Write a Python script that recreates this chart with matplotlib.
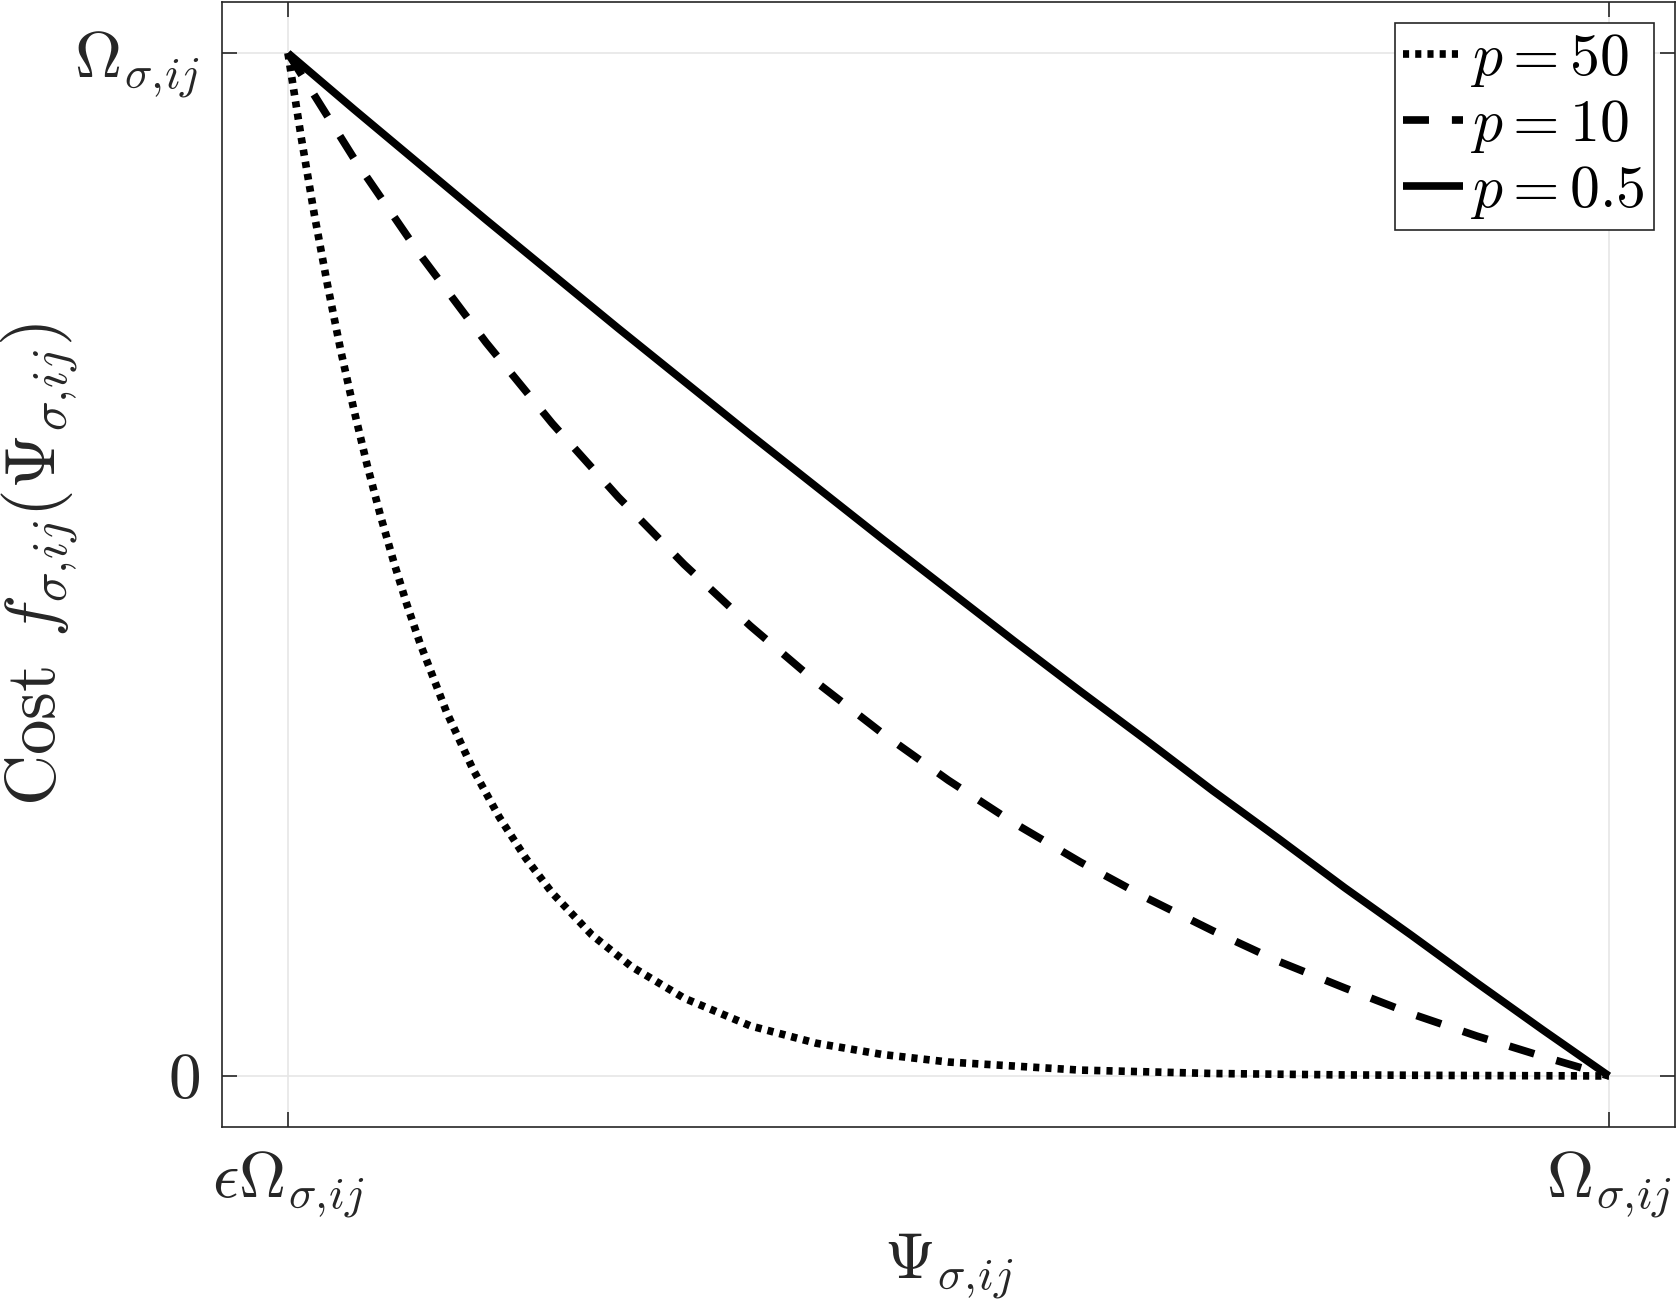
import matplotlib
matplotlib.use('Agg')
import matplotlib.pyplot as plt

plt.rcParams['mathtext.fontset'] = 'cm'
plt.rcParams['font.family'] = 'serif'
plt.rcParams['font.serif'] = ['cmr10', 'DejaVu Serif']
plt.rcParams['axes.formatter.use_mathtext'] = True

# values, x normalised: 0 = eps*Omega, 1 = Omega
# y normalised: 0 = 0, 1 = Omega
x_p50 = [0.0, 0.01, 0.02, 0.03, 0.04, 0.05, 0.06, 0.07, 0.08, 0.09, 0.10,
         0.12, 0.14, 0.16, 0.18, 0.20, 0.23, 0.26, 0.30, 0.35, 0.40, 0.45,
         0.50, 0.60, 0.70, 0.80, 0.90, 1.0]
y_p50 = [1.0, 0.918, 0.842, 0.773, 0.709, 0.651, 0.597, 0.548, 0.503, 0.461,
         0.423, 0.356, 0.300, 0.253, 0.213, 0.179, 0.138, 0.107, 0.076, 0.049,
         0.032, 0.021, 0.0136, 0.0057, 0.0024, 0.001, 0.0004, 0.0]

x_p10 = [0.0, 0.05, 0.10, 0.15, 0.20, 0.25, 0.30, 0.35, 0.40, 0.45, 0.50,
         0.55, 0.60, 0.65, 0.70, 0.75, 0.80, 0.85, 0.90, 0.95, 1.0]
y_p10 = [1.0, 0.897, 0.803, 0.717, 0.638, 0.566, 0.500, 0.440, 0.385, 0.335,
         0.289, 0.247, 0.209, 0.174, 0.142, 0.112, 0.086, 0.061, 0.039, 0.019,
         0.0]

x_p05 = [0.0, 0.05, 0.10, 0.15, 0.20, 0.25, 0.30, 0.35, 0.40, 0.45, 0.50,
         0.55, 0.60, 0.65, 0.70, 0.75, 0.80, 0.85, 0.90, 0.95, 1.0]
y_p05 = [1.0, 0.945, 0.891, 0.837, 0.784, 0.731, 0.679, 0.627, 0.576, 0.525,
         0.475, 0.425, 0.376, 0.328, 0.279, 0.232, 0.184, 0.138, 0.091, 0.045,
         0.0]

labels = [r'$p = 50$', r'$p = 10$', r'$p = 0.5$']
xtick_labels = [r'$\epsilon\Omega_{\sigma,\!ij}$', r'$\Omega_{\sigma,\!ij}$']
ytick_labels = [r'$0$', r'$\Omega_{\sigma,\!ij}$']

fig = plt.figure(figsize=(16.81, 13.03), dpi=100)
ax = fig.add_axes([0.132, 0.135, 0.8644, 0.8635])

lw = 5.5
ax.plot(x_p50, y_p50, color='black', lw=lw, linestyle=(0, (0.8, 0.8)),
        dash_capstyle='butt', label=labels[0])
ax.plot(x_p10, y_p10, color='black', lw=lw, linestyle=(0, (3.4, 3.0)),
        dash_capstyle='butt', label=labels[1])
ax.plot(x_p05, y_p05, color='black', lw=lw, linestyle='-',
        solid_capstyle='butt', label=labels[2])

ax.set_xlim(-0.05, 1.05)
ax.set_ylim(-0.05, 1.05)
ax.set_xticks([0, 1])
ax.set_xticklabels(xtick_labels)
ax.set_yticks([0, 1])
ax.set_yticklabels(ytick_labels)

ax.grid(True, color='#e6e6e6', lw=1.2)
ax.set_axisbelow(True)
ax.tick_params(direction='in', length=11, width=1.2, top=True, right=True,
               labelsize=47, colors='#262626', pad=16)
for s in ax.spines.values():
    s.set_color('#262626')
    s.set_linewidth(1.2)

ax.set_xlabel(r'$\Psi_{\sigma,\!ij}$', fontsize=47, color='#262626')
ax.xaxis.set_label_coords(0.5, -0.093)
ax.set_ylabel(r'$\mathrm{Cost}\;\,f_{\sigma,\!ij}(\Psi_{\sigma,\!ij})$',
              fontsize=51, color='#262626')
ax.yaxis.set_label_coords(-0.097, 0.5)

leg = ax.legend(loc='upper right', fontsize=43, handlelength=1.0,
                handletextpad=0.12, borderpad=0.15, labelspacing=0.15,
                borderaxespad=0.35, fancybox=False, framealpha=1)
leg.get_frame().set_edgecolor('#262626')
leg.get_frame().set_linewidth(1.2)

fig.savefig('out.png', dpi=100)
